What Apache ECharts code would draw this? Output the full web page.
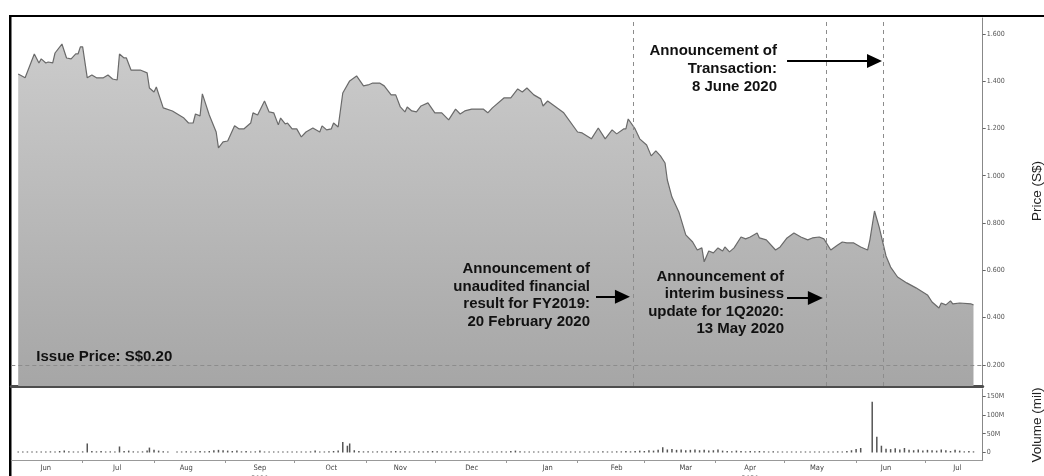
<!DOCTYPE html>
<html>
<head>
<meta charset="utf-8">
<script src="https://cdn.jsdelivr.net/npm/echarts@6/dist/echarts.min.js"></script>
<style>
html, body { margin: 0; padding: 0; background: #fff; }
#chart { width: 1044px; height: 476px; }
</style>
</head>
<body>
<div id="chart"></div>
<script>
// x values are days counted from 1 Jun 2019
const priceDay = [
  2, 5, 9, 11, 12, 14, 15, 17, 18, 21, 23, 25, 27, 28, 29, 30,
  32, 34, 36, 39, 41, 43, 45, 46, 48, 49, 51, 55, 58, 59,
  61, 62, 65, 69, 74, 76, 78, 79, 81, 82, 85, 88, 89, 91,
  93, 96, 98, 100, 103, 104, 106, 109, 111, 113, 115, 116, 118, 119, 121,
  123, 125, 127, 130, 133, 134, 136, 138, 139, 141, 143, 146, 149, 152,
  154, 156, 157, 159, 161, 164, 166, 168, 170, 171, 173, 175, 177, 180,
  183, 186, 189, 192, 194, 196, 199, 204, 206, 208, 213,
  216, 219, 221, 223, 226, 229, 230, 232, 239,
  245, 247, 251, 254, 257, 260, 262, 265, 266, 267, 270, 272,
  275, 277, 279, 281, 283, 284, 286, 289, 292, 295, 297, 299, 300, 302, 304,
  306, 308, 309, 311, 313, 316, 318, 320, 323, 324, 327, 331, 333,
  336, 339, 342, 345, 347, 350, 352, 355, 358, 360, 362, 365,
  368, 371, 372, 374, 376, 379, 381, 384, 388, 392,
  397, 399, 402, 403, 405, 407, 408, 411, 416, 417
];
const price = [
  1.430, 1.414, 1.515, 1.477, 1.494, 1.477, 1.481, 1.477, 1.519, 1.557, 1.498, 1.494, 1.515, 1.515, 1.545, 1.545,
  1.414, 1.426, 1.414, 1.414, 1.426, 1.409, 1.405, 1.515, 1.498, 1.498, 1.447, 1.447, 1.435, 1.371,
  1.354, 1.375, 1.287, 1.274, 1.244, 1.223, 1.223, 1.261, 1.253, 1.346, 1.257, 1.185, 1.118, 1.143,
  1.147, 1.211, 1.198, 1.198, 1.223, 1.266, 1.257, 1.316, 1.270, 1.266, 1.215, 1.244, 1.219, 1.223, 1.198,
  1.198, 1.164, 1.185, 1.202, 1.185, 1.211, 1.194, 1.198, 1.223, 1.206, 1.350, 1.401, 1.422, 1.380,
  1.384, 1.392, 1.392, 1.392, 1.380, 1.342, 1.342, 1.291, 1.270, 1.291, 1.274, 1.270, 1.295, 1.308,
  1.266, 1.266, 1.236, 1.282, 1.261, 1.274, 1.282, 1.282, 1.266, 1.287, 1.329,
  1.329, 1.367, 1.354, 1.371, 1.342, 1.325, 1.295, 1.316, 1.266,
  1.185, 1.181, 1.156, 1.202, 1.156, 1.194, 1.177, 1.198, 1.198, 1.240, 1.198, 1.156,
  1.130, 1.084, 1.105, 1.084, 1.054, 0.982, 0.910, 0.847, 0.750, 0.720, 0.686, 0.695, 0.636, 0.682, 0.674,
  0.695, 0.682, 0.699, 0.678, 0.695, 0.741, 0.733, 0.741, 0.758, 0.737, 0.729, 0.686, 0.699,
  0.737, 0.758, 0.741, 0.729, 0.737, 0.741, 0.733, 0.686, 0.707, 0.720, 0.716, 0.716,
  0.699, 0.686, 0.729, 0.851, 0.784, 0.661, 0.614, 0.572, 0.547, 0.526,
  0.496, 0.466, 0.441, 0.462, 0.454, 0.471, 0.458, 0.462, 0.458, 0.454
];

// volume in millions
const volDay = [
  2, 4, 6, 8, 10, 12, 14, 16, 18, 20, 22, 24, 26, 28,
  30, 32, 34, 36, 38, 40, 42, 44, 46, 48, 50, 52, 54, 56, 58, 59,
  61, 63, 65, 67, 71, 73, 75, 77, 79, 81, 83, 85, 87, 89, 91,
  93, 95, 97, 99, 101, 103, 105, 107, 109, 111, 113, 115, 117, 119, 121,
  123, 125, 127, 129, 131, 133, 135, 137, 139, 141, 143, 145, 146, 148, 150, 152,
  154, 156, 158, 160, 162, 164, 166, 168, 170, 172, 174, 176, 178, 180, 182,
  184, 186, 188, 190, 192, 194, 196, 198, 200, 202, 204, 206, 208, 210, 212,
  214, 216, 218, 220, 222, 224, 226, 228, 230, 232, 234, 236, 238, 240, 242, 244,
  246, 248, 250, 252, 254, 256, 258, 260, 262, 264, 266, 268, 270, 272,
  274, 276, 278, 280, 282, 284, 286, 288, 290, 292, 294, 296, 298, 300, 302, 304,
  306, 308, 310, 312, 314, 316, 318, 320, 322, 324, 326, 328, 330, 332, 334,
  336, 338, 340, 342, 344, 346, 348, 350, 352, 354, 356, 358, 360, 362, 364,
  366, 368, 373, 375, 377, 379, 381, 383, 385, 387, 389, 391, 393, 395,
  397, 399, 401, 403, 405, 407, 409, 411, 413, 415, 417
];
const volume = [
  1, 2, 1, 2, 2, 1, 2, 3, 2, 4, 5, 3, 2, 2,
  3, 24, 4, 3, 4, 2, 3, 2, 16, 4, 5, 3, 2, 3, 5, 13,
  7, 5, 3, 1, 1, 2, 3, 2, 3, 4, 3, 4, 6, 7, 6,
  5, 4, 5, 3, 4, 2, 3, 5, 2, 2, 1, 2, 1, 2, 1,
  2, 1, 2, 3, 5, 2, 2, 3, 4, 5, 28, 18, 24, 6, 4, 3,
  3, 2, 3, 3, 2, 3, 4, 3, 3, 2, 3, 3, 2, 3, 4,
  3, 2, 2, 3, 2, 3, 2, 1, 2, 3, 2, 1, 2, 2, 3,
  2, 4, 5, 3, 2, 2, 2, 1, 2, 2, 1, 2, 2, 1, 2, 2,
  1, 2, 2, 1, 2, 3, 2, 2, 3, 3, 4, 3, 4, 5,
  4, 6, 5, 7, 14, 8, 9, 7, 8, 6, 7, 8, 6, 7, 5, 6,
  8, 5, 4, 3, 5, 4, 3, 4, 3, 4, 3, 2, 3, 2, 1,
  2, 2, 1, 2, 2, 1, 2, 2, 1, 2, 2, 3, 2, 4, 6,
  9, 12, 135, 42, 18, 10, 9, 11, 8, 12, 7, 6, 8, 5,
  7, 6, 5, 8, 6, 4, 7, 5, 3, 4, 3
];

const monthNames = ['Jun', 'Jul', 'Aug', 'Sep', 'Oct', 'Nov', 'Dec', 'Jan', 'Feb', 'Mar', 'Apr', 'May', 'Jun', 'Jul'];
const monthYear = ['', '', '', '2019', '', '', '', '', '', '', '2020', '', '', ''];
const monthLabelDay = [14, 45, 75, 107, 138, 168, 199, 232, 262, 292, 320, 349, 379, 410];
const monthStartDay = [30, 61, 92, 122, 153, 183, 214, 245, 274, 305, 335, 366, 396];
const priceTicks = [0.2, 0.4, 0.6, 0.8, 1.0, 1.2, 1.4, 1.6];
const volTicks = [0, 50, 100, 150];

const issuePrice = 0.20;
const eventDay = [269, 353, 378];
// arrows: [fromDay, toDay, price level]
const arrows = [
  [336, 374, 1.485],
  [253, 264.5, 0.488],
  [336, 348.3, 0.483]
];
const notes = [
  { text: 'Announcement of\nTransaction:\n8 June 2020', x: 777, y: 42, lh: 18 },
  { text: 'Announcement of\nunaudited financial\nresult for FY2019:\n20 February 2020', x: 590, y: 260, lh: 17.7 },
  { text: 'Announcement of\ninterim business\nupdate for 1Q2020:\n13 May 2020', x: 784, y: 268, lh: 17.4 }
];

const tinyFont = '"Liberation Sans Narrow", "DejaVu Sans Condensed", "Liberation Sans", sans-serif';
const boldFont = 'bold 15px "Liberation Sans", Arial, sans-serif';

const markData = [
  {
    yAxis: issuePrice,
    lineStyle: { type: [4, 3], color: '#8c8c8c', width: 1 },
    label: {
      show: true,
      formatter: 'Issue Price: S$' + issuePrice.toFixed(2),
      position: 'insideStartTop',
      distance: [25, 1],
      color: '#111',
      fontWeight: 'bold',
      fontSize: 15,
      fontFamily: '"Liberation Sans", Arial, sans-serif'
    }
  }
];
eventDay.forEach(d => markData.push({
  xAxis: d,
  lineStyle: { type: [4, 4], color: '#8c8c8c', width: 1 }
}));
arrows.forEach(a => markData.push([
  { coord: [a[0], a[2]], symbol: 'none', lineStyle: { type: 'solid', color: '#000', width: 2 } },
  { coord: [a[1], a[2]], symbol: 'triangle', symbolSize: [14, 15] }
]));

const graphics = [
  { type: 'rect', shape: { x: 9, y: 15, width: 1035, height: 2 }, style: { fill: '#000' } },
  { type: 'rect', shape: { x: 9, y: 15, width: 2.5, height: 461 }, style: { fill: '#000' } },
  {
    type: 'text', x: 1037, y: 191, rotation: Math.PI / 2,
    style: { text: 'Price (S$)', textAlign: 'center', textVerticalAlign: 'middle', font: '13.5px "Liberation Sans", Arial, sans-serif', fill: '#222' }
  },
  {
    type: 'text', x: 1037, y: 425, rotation: Math.PI / 2,
    style: { text: 'Volume (mil)', textAlign: 'center', textVerticalAlign: 'middle', font: '13.5px "Liberation Sans", Arial, sans-serif', fill: '#222' }
  }
];
notes.forEach(n => graphics.push({
  type: 'text', x: n.x, y: n.y, z: 100,
  style: { text: n.text, textAlign: 'right', textVerticalAlign: 'top', font: boldFont, lineHeight: n.lh, fill: '#111' }
}));

const option = {
  animation: false,
  backgroundColor: '#fff',
  grid: [
    { left: 11.3, right: 61.3, top: 18, height: 368, outerBoundsMode: 'none' },
    { left: 11.3, right: 61.3, top: 389, height: 71, outerBoundsMode: 'none' }
  ],
  xAxis: [
    {
      type: 'value', gridIndex: 0, min: -1, max: 421,
      axisLine: { show: true, onZero: false, lineStyle: { color: '#4d4d4d', width: 3 } },
      axisTick: { show: false }, axisLabel: { show: false }, splitLine: { show: false }
    },
    {
      type: 'value', gridIndex: 1, min: -1, max: 421,
      axisLine: { show: true, onZero: false, lineStyle: { color: '#999', width: 1 } },
      axisTick: { show: true, customValues: monthStartDay, length: 3, lineStyle: { color: '#999' } },
      axisLabel: {
        show: true,
        customValues: monthLabelDay,
        formatter: v => {
          const i = monthLabelDay.indexOf(v);
          if (i < 0) return '';
          return monthYear[i] ? monthNames[i] + '\n' + monthYear[i] : monthNames[i];
        },
        fontSize: 7.5, color: '#444', margin: 3, lineHeight: 11, fontFamily: tinyFont
      },
      splitLine: { show: false }
    }
  ],
  yAxis: [
    {
      type: 'value', gridIndex: 0, position: 'right', min: 0.111, max: 1.667,
      axisLine: { show: true, onZero: false, lineStyle: { color: '#888' } },
      axisTick: { show: true, customValues: priceTicks, length: 3, lineStyle: { color: '#666' } },
      axisLabel: {
        customValues: priceTicks, formatter: v => v.toFixed(3),
        fontSize: 7, color: '#555', margin: 4, fontFamily: tinyFont
      },
      splitLine: { show: false }
    },
    {
      type: 'value', gridIndex: 1, position: 'right', min: -20, max: 169,
      axisLine: { show: true, onZero: false, lineStyle: { color: '#888' } },
      axisTick: { show: true, customValues: volTicks, length: 3, lineStyle: { color: '#666' } },
      axisLabel: {
        customValues: volTicks, formatter: v => (v === 0 ? '0' : v + 'M'),
        fontSize: 7, color: '#555', margin: 4, fontFamily: tinyFont
      },
      splitLine: { show: false }
    }
  ],
  series: [
    {
      name: 'Price',
      type: 'line',
      xAxisIndex: 0, yAxisIndex: 0,
      data: priceDay.map((d, i) => [d, price[i]]),
      showSymbol: false,
      lineStyle: { color: '#6a6a6a', width: 1.2 },
      areaStyle: {
        origin: 'start',
        opacity: 1,
        color: {
          type: 'linear', x: 0, y: 18, x2: 0, y2: 386, global: true,
          colorStops: [{ offset: 0, color: '#cecece' }, { offset: 1, color: '#a6a6a6' }]
        }
      },
      markLine: {
        silent: true,
        animation: false,
        symbol: 'none',
        label: { show: false },
        data: markData
      }
    },
    {
      name: 'Volume',
      type: 'bar',
      xAxisIndex: 1, yAxisIndex: 1,
      data: volDay.map((d, i) => [d, volume[i]]),
      barWidth: 1.5,
      barMinHeight: 1,
      itemStyle: { color: '#555' }
    }
  ],
  graphic: graphics
};

const chart = echarts.init(document.getElementById('chart'));
chart.setOption(option);
</script>
</body>
</html>
